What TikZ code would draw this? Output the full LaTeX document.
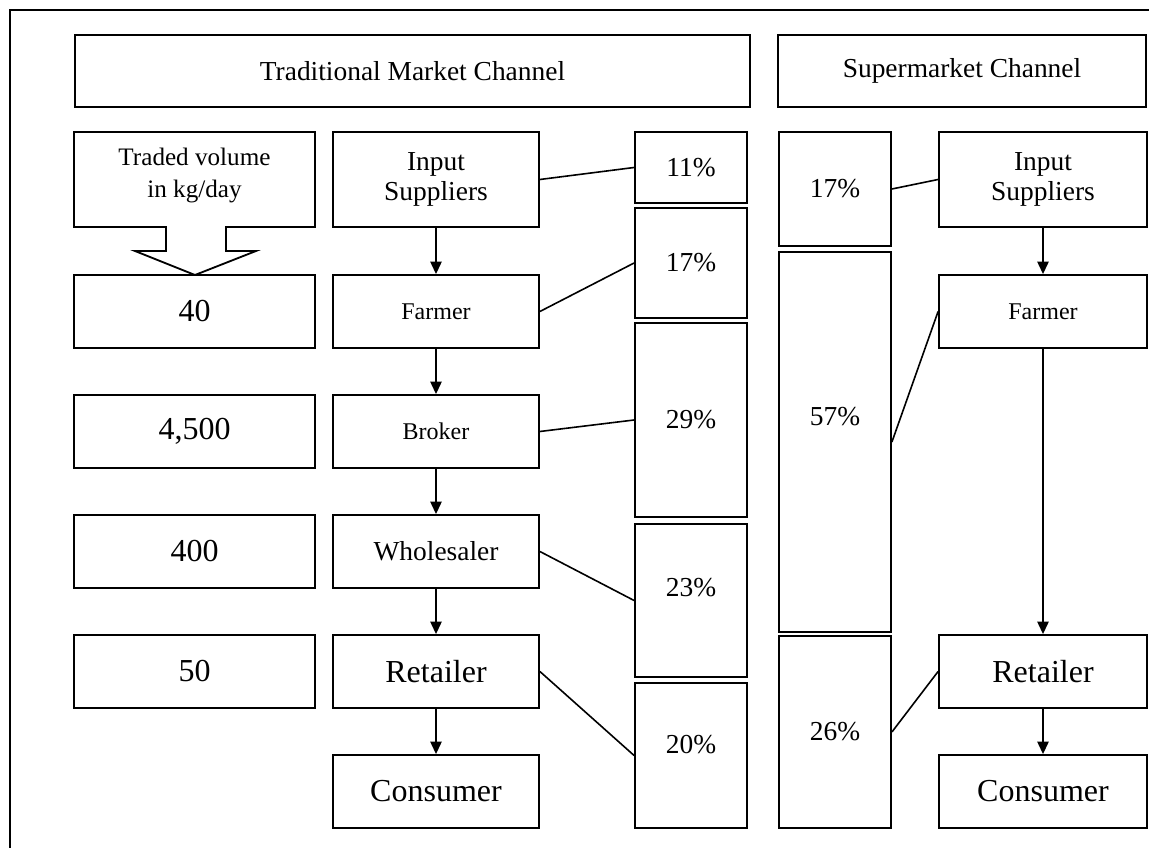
\documentclass[tikz,border=0pt]{standalone}
\usepackage{fontspec}
\setmainfont{Liberation Serif}
\usetikzlibrary{arrows.meta}
\newcommand{\pxl}{0.4375pt}

\begin{document}
\begin{tikzpicture}[x=\pxl, y=-\pxl,
    cell/.style 2 args={draw, line width=0.8pt, inner sep=0pt, align=center,
      minimum width=#1*\pxl, minimum height=#2*\pxl},
    txtL/.style={font=\fontsize{14}{17}\selectfont},
    txtM/.style={font=\fontsize{12}{13}\selectfont},
    txtS/.style={font=\fontsize{10.5}{12}\selectfont},
    link/.style={line width=0.7pt},
    flow/.style={line width=0.7pt, -{Triangle[length=5.5pt, width=5pt]}}]
  \useasboundingbox (0,0) rectangle (1149,848);

  % Outer frame (right and bottom run off the page)
  \draw[line width=1.2pt] (10,848) -- (10,10) -- (1149,10);

  % Channel headings
  \node[cell={675}{72}, txtM] (trad) at (412.5,71) {Traditional Market Channel};
  \node[cell={368}{72}, txtM] (super) at (962,71) {Supermarket Channel};

  % Traded volume callout
  \draw[line width=0.8pt] (74,132) -- (315,132) -- (315,227) -- (226,227)
    -- (226,251) -- (256,251) -- (195,275) -- (135,251) -- (166,251)
    -- (166,227) -- (74,227) -- cycle;
  \node[align=center, font=\fontsize{11}{14}\selectfont] (vollabel) at (194.5,175)
    {Traded volume\\in kg/day};

  % Volumes
  \node[cell={241}{73}, txtL] (v40) at (194.5,311.5) {40};
  \node[cell={241}{73}, txtL] (v4500) at (194.5,431.5) {4,500};
  \node[cell={241}{73}, txtL] (v400) at (194.5,551.5) {400};
  \node[cell={241}{73}, txtL] (v50) at (194.5,671.5) {50};

  % Traditional chain
  \node[cell={206}{95}, txtM] (is) at (436,179.5) {Input\\Suppliers};
  \node[cell={206}{73}, txtS] (farmer) at (436,311.5) {Farmer};
  \node[cell={206}{73}, txtS] (broker) at (436,431.5) {Broker};
  \node[cell={206}{73}, txtM] (wholesaler) at (436,551.5) {Wholesaler};
  \node[cell={206}{73}, txtL] (retailer) at (436,671.5) {Retailer};
  \node[cell={206}{73}, txtL] (consumer) at (436,791.5) {Consumer};

  \draw[flow] (is) -- (farmer);
  \draw[flow] (farmer) -- (broker);
  \draw[flow] (broker) -- (wholesaler);
  \draw[flow] (wholesaler) -- (retailer);
  \draw[flow] (retailer) -- (consumer);

  % Shares, traditional
  \node[cell={112}{71}, txtM] (p11) at (691,167.5) {11\%};
  \node[cell={112}{110}, txtM] (p17) at (691,263) {17\%};
  \node[cell={112}{194}, txtM] (p29) at (691,420) {29\%};
  \node[cell={112}{153}] (p23) at (691,600.5) {};
  \node[txtM] (p23txt) at (691,588) {23\%};
  \node[cell={112}{145}] (p20) at (691,755.5) {};
  \node[txtM] (p20txt) at (691,745) {20\%};

  \draw[link] (is.east) -- (p11.west);
  \draw[link] (farmer.east) -- (p17.west);
  \draw[link] (broker.east) -- (p29.west);
  \draw[link] (wholesaler.east) -- (p23.west);
  \draw[link] (retailer.east) -- (p20.west);

  % Shares, supermarket
  \node[cell={112}{114}, txtM] (q17) at (835,189) {17\%};
  \node[cell={112}{380}] (q57) at (835,442) {};
  \node[txtM] (q57txt) at (835,417) {57\%};
  \node[cell={112}{192}, txtM] (q26) at (835,732) {26\%};

  % Supermarket chain
  \node[cell={208}{95}, txtM] (is2) at (1043,179.5) {Input\\Suppliers};
  \node[cell={208}{73}, txtS] (farmer2) at (1043,311.5) {Farmer};
  \node[cell={208}{73}, txtL] (retailer2) at (1043,671.5) {Retailer};
  \node[cell={208}{73}, txtL] (consumer2) at (1043,791.5) {Consumer};

  \draw[flow] (is2) -- (farmer2);
  \draw[flow] (farmer2) -- (retailer2);
  \draw[flow] (retailer2) -- (consumer2);

  \draw[link] (is2.west) -- (q17.east);
  \draw[link] (farmer2.west) -- (q57.east);
  \draw[link] (retailer2.west) -- (q26.east);
\end{tikzpicture}
\end{document}
